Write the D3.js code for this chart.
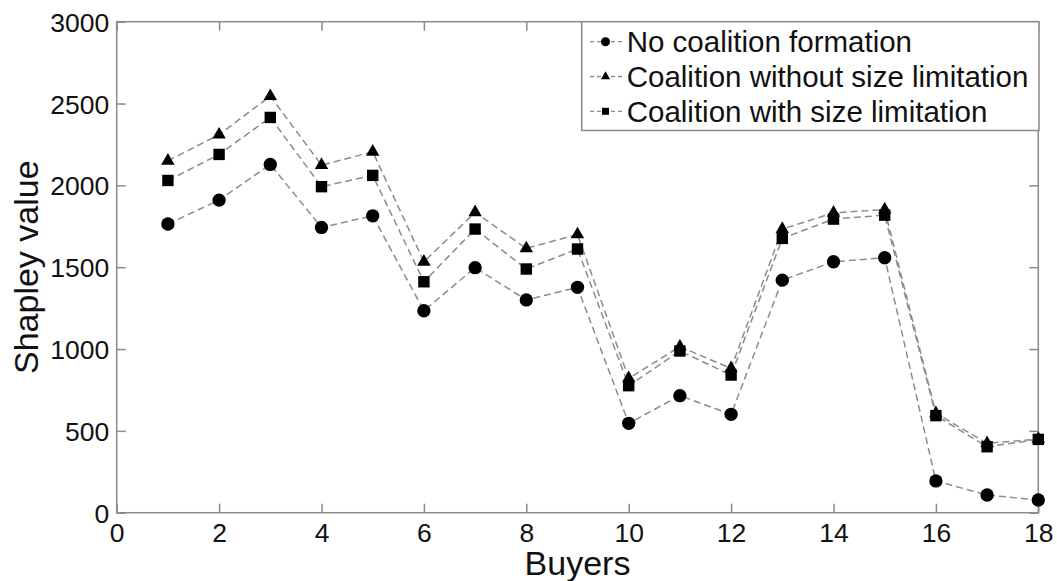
<!DOCTYPE html>
<html>
<head>
<meta charset="utf-8">
<script src="https://cdn.jsdelivr.net/npm/d3@7/dist/d3.min.js"></script>
<style>
  html, body { margin: 0; padding: 0; background: #fff; }
  svg { display: block; font-family: "Liberation Sans", Arial, Helvetica, sans-serif; }
</style>
</head>
<body>
<svg id="chart" width="1057" height="581"></svg>
<script>
// Buyers on the x axis
const buyers = [1, 2, 3, 4, 5, 6, 7, 8, 9, 10, 11, 12, 13, 14, 15, 16, 17, 18];

// Shapley value of each buyer under the three scenarios
const noCoalition      = [1764, 1910, 2128, 1743, 1814, 1234, 1497, 1300, 1377, 546, 715, 601, 1421, 1533, 1558, 194, 108, 78];
const coalitionNoLimit = [2150, 2310, 2545, 2124, 2205, 1533, 1835, 1615, 1700, 821, 1014, 882, 1733, 1832, 1852, 607, 424, 450];
const coalitionLimit   = [2030, 2189, 2415, 1992, 2061, 1411, 1733, 1489, 1611, 776, 988, 841, 1676, 1794, 1818, 593, 403, 448];

const seriesNames = ["No coalition formation", "Coalition without size limitation", "Coalition with size limitation"];
const xTicks = [0, 2, 4, 6, 8, 10, 12, 14, 16, 18];
const yTicks = [0, 500, 1000, 1500, 2000, 2500, 3000];

const svg = d3.select("#chart");
const plot = { left: 116.7, right: 1038.3, top: 21.7, bottom: 512.7 };

const x = d3.scaleLinear().domain([0, 18]).range([plot.left, plot.right]);
const y = d3.scaleLinear().domain([0, 3000]).range([plot.bottom, plot.top]);

const axisColor = "#8a8a8a";
const tickLen = 9;

// Frame (box around the axes)
svg.append("rect")
  .attr("x", plot.left).attr("y", plot.top)
  .attr("width", plot.right - plot.left).attr("height", plot.bottom - plot.top)
  .attr("fill", "none").attr("stroke", axisColor).attr("stroke-width", 1.5);

// Bottom axis with inward ticks
const gx = svg.append("g").attr("transform", `translate(0,${plot.bottom})`)
  .call(d3.axisBottom(x).tickValues(xTicks).tickSize(-tickLen).tickPadding(10).tickFormat(d3.format("d")));
// Top axis ticks (no labels)
const gxt = svg.append("g").attr("transform", `translate(0,${plot.top})`)
  .call(d3.axisTop(x).tickValues(xTicks).tickSize(-tickLen).tickFormat(""));
// Left axis with inward ticks
const gy = svg.append("g").attr("transform", `translate(${plot.left},0)`)
  .call(d3.axisLeft(y).tickValues(yTicks).tickSize(-tickLen).tickPadding(7.5).tickFormat(d3.format("d")));
// Right axis ticks (no labels)
const gyr = svg.append("g").attr("transform", `translate(${plot.right},0)`)
  .call(d3.axisRight(y).tickValues(yTicks).tickSize(-tickLen).tickFormat(""));

[gx, gxt, gy, gyr].forEach(g => {
  g.select(".domain").remove();
  g.selectAll(".tick line").attr("stroke", axisColor).attr("stroke-width", 1.5);
  g.selectAll(".tick text").attr("fill", "#111").attr("font-size", 26.5)
    .attr("font-family", "'Liberation Sans', Arial, sans-serif");
});
gx.selectAll(".tick text").attr("dy", "0.71em");
gy.selectAll(".tick text").attr("dy", "0.36em");

// Axis titles
svg.append("text")
  .attr("x", (plot.left + plot.right) / 2).attr("y", 575)
  .attr("text-anchor", "middle").attr("font-size", 34).attr("fill", "#111")
  .text("Buyers");
svg.append("text")
  .attr("transform", `translate(38,${(plot.top + plot.bottom) / 2}) rotate(-90)`)
  .attr("text-anchor", "middle").attr("font-size", 34).attr("fill", "#111")
  .text("Shapley value");

// Series definitions
const series = [
  { name: seriesNames[0], values: noCoalition,      symbol: d3.symbolCircle,   size: 140 },
  { name: seriesNames[1], values: coalitionNoLimit, symbol: d3.symbolTriangle, size: 78 },
  { name: seriesNames[2], values: coalitionLimit,   symbol: d3.symbolSquare,   size: 130 }
];

const line = d3.line().x((d, i) => x(buyers[i])).y(d => y(d));
const lineColor = "#8c8c8c";

series.forEach(s => {
  svg.append("path")
    .datum(s.values)
    .attr("d", line)
    .attr("fill", "none")
    .attr("stroke", lineColor)
    .attr("stroke-width", 1.5)
    .attr("stroke-dasharray", "7,4");
});

series.forEach(s => {
  svg.append("g").selectAll("path")
    .data(s.values)
    .join("path")
    .attr("transform", (d, i) => `translate(${x(buyers[i])},${y(d)})`)
    .attr("d", d3.symbol().type(s.symbol).size(s.size))
    .attr("fill", "#000");
});

// Legend
const legend = { x0: 581.7, y0: 21.7, x1: 1039, y1: 130.5 };
svg.append("rect")
  .attr("x", legend.x0).attr("y", legend.y0)
  .attr("width", legend.x1 - legend.x0).attr("height", legend.y1 - legend.y0)
  .attr("fill", "#fff").attr("stroke", axisColor).attr("stroke-width", 1.5);

const rowY = [41.7, 76.5, 111.3];
const legendSizes = [64, 36, 49];
series.forEach((s, i) => {
  const g = svg.append("g").attr("transform", `translate(0,${rowY[i]})`);
  g.append("line")
    .attr("x1", 590).attr("x2", 624).attr("y1", 0).attr("y2", 0)
    .attr("stroke", lineColor).attr("stroke-width", 1.3)
    .attr("stroke-dasharray", "4,3");
  g.append("path")
    .attr("transform", "translate(605.5,0)")
    .attr("d", d3.symbol().type(s.symbol).size(legendSizes[i]))
    .attr("fill", "#000");
  g.append("text")
    .attr("x", 626.7).attr("y", 0).attr("dy", "0.36em")
    .attr("font-size", 29.5).attr("fill", "#111")
    .text(s.name);
});
</script>
</body>
</html>
